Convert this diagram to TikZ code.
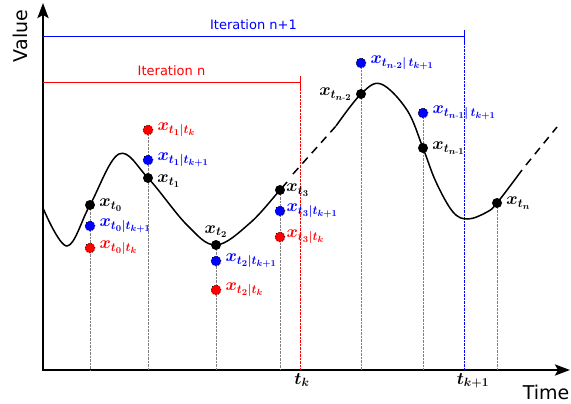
\documentclass[tikz,border=0pt]{standalone}
\usepackage{amsmath}
\usepackage{fontspec}
\setsansfont{DejaVu Sans}
\usetikzlibrary{arrows, arrows.meta, positioning, backgrounds}

\begin{document}
\begin{tikzpicture}[x=1pt, y=-1pt, >={Stealth[length=15pt, width=11pt, inset=3pt]}, node distance=3pt,
    datapt/.style={circle, fill=black, inner sep=0pt, minimum size=10pt},
    newest/.style={circle, fill=blue, draw=black, dotted, line width=0.8pt, inner sep=0pt, minimum size=10pt},
    oldest/.style={circle, fill=red, draw=black, dotted, line width=0.8pt, inner sep=0pt, minimum size=10pt},
    val/.style={inner sep=1pt, font=\fontsize{17.5}{20}\selectfont\boldmath},
    tick/.style={inner sep=1pt, font=\fontsize{18}{20}\selectfont\boldmath},
    iter/.style={inner sep=1pt, font=\sffamily\fontsize{13}{15}\selectfont},
    axlab/.style={inner sep=0pt, font=\sffamily\fontsize{19}{21}\selectfont},
    guide/.style={densely dotted, gray, thin},
    curve/.style={line width=1.5pt}
]
\useasboundingbox (0,0) rectangle (571,404);

% Axes and time marks
\coordinate (o) at (43,370);
\coordinate (ytop) at (43,3);
\coordinate (xend) at (570,370);
\coordinate (tk) at (300,370);
\coordinate (tk1) at (464,370);
\coordinate (itn) at (43,82);
\coordinate (itn1) at (43,36);

% Observed values on the curve
\node (p0) [datapt] at (90,205) {};
\node (p1) [datapt] at (148,178) {};
\node (p2) [datapt] at (216,245) {};
\node (p3) [datapt] at (280,190) {};
\node (pn2) [datapt] at (361,94) {};
\node (pn1) [datapt] at (423,148) {};
\node (pn) [datapt] at (497,203) {};

% Estimates at t_{k+1} (blue) and t_k (red)
\node (b0) [newest] at (90,226) {};
\node (r0) [oldest] at (90,248) {};
\node (b1) [newest] at (148,160) {};
\node (r1) [oldest] at (148,130) {};
\node (b2) [newest] at (216,261) {};
\node (r2) [oldest] at (216,290) {};
\node (b3) [newest] at (280,211) {};
\node (r3) [oldest] at (280,237) {};
\node (bn2) [newest] at (361,63) {};
\node (bn1) [newest] at (423,113) {};

% Labels
\node (l0) [val, right=of p0] {$x_{t_0}$};
\node (lb0) [val, blue, right=of b0] {$x_{t_0|t_{k+1}}$};
\node (lr0) [val, red, right=of r0] {$x_{t_0|t_k}$};
\node (l1) [val, right=of p1, yshift=-3pt] {$x_{t_1}$};
\node (lb1) [val, blue, right=of b1] {$x_{t_1|t_{k+1}}$};
\node (lr1) [val, red, right=of r1] {$x_{t_1|t_k}$};
\node (l2) [val, above=1pt of p2] {$x_{t_2}$};
\node (lb2) [val, blue, right=of b2] {$x_{t_2|t_{k+1}}$};
\node (lr2) [val, red, right=of r2] {$x_{t_2|t_k}$};
\node (l3) [val, right=0pt of p3] {$x_{t_3}$};
\node (lb3) [val, blue, right=0pt of b3] {$x_{t_3|t_{k+1}}$};
\node (lr3) [val, red, right=0pt of r3] {$x_{t_3|t_k}$};
\node (ln2) [val, left=of pn2] {$x_{t_{n\text{-}2}}$};
\node (lbn2) [val, blue, right=of bn2] {$x_{t_{n\text{-}2}|\,t_{k+1}}$};
\node (ln1) [val, right=of pn1] {$x_{t_{n\text{-}1}}$};
\node (lbn1) [val, blue, right=of bn1] {$x_{t_{n\text{-}1}|\,t_{k+1}}$};
\node (ln) [val, right=of pn] {$x_{t_n}$};
\node (ltk) [tick, below=2pt of tk, xshift=2pt] {$t_k$};
\node (ltk1) [tick, below=2pt of tk1, xshift=9pt] {$t_{k+1}$};
\node (vlab) [axlab, rotate=90] at (20,36) {Value};
\node (tlab) [axlab] at (546,392) {Time};

\begin{scope}[on background layer]
% Axes
\draw [line width=2.5pt, <->] (ytop) -- (o) -- (xend);

% Iteration windows
\draw [red, -{Bar[width=12pt]}] (itn) -- node [iter, above=5pt] (itnlab) {Iteration n} (itn -| tk);
\draw [red, densely dotted] (itn -| tk) -- (tk);
\draw [blue, -{Bar[width=12pt]}] (itn1) -- node [iter, above=5pt] (itn1lab) {Iteration n+1} (itn1 -| tk1);
\draw [blue, densely dotted] (itn1 -| tk1) -- (tk1);

% Guides down to the time axis
\foreach \n in {p0, r1, p2, p3, bn2, bn1, pn}
    \draw [guide] (\n) -- (\n |- o);

% Signal
\draw [curve] plot [smooth, tension=0.6] coordinates {(43,208) (67,246) (90,205) (119,154) (148,178) (187,225) (216,245) (250,223) (280,190) (287,182)};
\draw [curve, dash pattern=on 8pt off 6pt] (293,174) -- (336,126);
\draw [curve] plot [smooth, tension=0.6] coordinates {(336,126) (361,94) (381,84) (407,110) (423,148) (436,182) (453,212) (468,219) (487,212) (497,203) (522,170)};
\draw [curve, dash pattern=on 8pt off 6pt] (526,165) -- (557,127);
\end{scope}

\end{tikzpicture}
\end{document}
